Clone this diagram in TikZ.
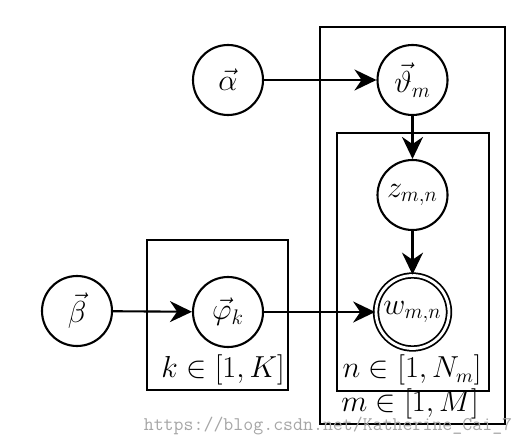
\documentclass[tikz,border=0pt]{standalone}
\usepackage{amsmath,amssymb}
\usepackage{tikz}
\usetikzlibrary{positioning,arrows.meta}

\begin{document}
\begin{tikzpicture}[
  var/.style={draw,circle,line width=1.2pt,minimum size=14mm,inner sep=0pt,font=\fontsize{18}{20}\selectfont},
  obs/.style={var,double,double distance=1.6pt,line width=1pt,minimum size=14.6mm},
  plate/.style={draw,line width=1.2pt},
  lbl/.style={font=\fontsize{16}{18}\selectfont,inner sep=1pt},
  arr/.style={-{Stealth[length=4.4mm,width=4.2mm]},line width=1.2pt}]
\useasboundingbox (0,0) rectangle (10.52,8.92);
% nodes
\node[var] (alpha) at (4.56,7.32) {$\vec{\alpha}$};
\node[var] (theta) at (8.25,7.32) {$\vec{\vartheta}_m$};
\node[var] (z) at (8.25,5.02) {$z_{m,n}$};
\node[obs] (w) at (8.25,2.68) {$w_{m,n}$};
\node[var] (beta) at (1.54,2.70) {$\vec{\beta}$};
\node[var] (phi) at (4.56,2.68) {$\vec{\varphi}_k$};
% plates
\draw[plate] (2.94,1.12) rectangle (5.76,4.12);
\draw[plate] (6.74,1.10) rectangle (9.78,6.26);
\draw[plate] (6.40,0.44) rectangle (10.10,8.38);
\node[lbl] (klbl) at (4.46,1.52) {$k\in[1,K]$};
\node[lbl] (nlbl) at (8.24,1.52) {$n\in[1,N_m]$};
\node[lbl] (mlbl) at (8.20,0.84) {$m\in[1,M]$};
% edges
\draw[arr] (alpha)--(theta); \draw[arr] (theta)--(z); \draw[arr] (z)--(w);
\draw[arr] (beta)--(phi); \draw[arr] (phi)--(w);
% watermark
\node[font=\fontsize{11}{12}\ttfamily,text=black!35] (wm) at (6.56,0.40) {https://blog.csdn.net/Katherine\_Cai\_7};
\end{tikzpicture}
\end{document}
